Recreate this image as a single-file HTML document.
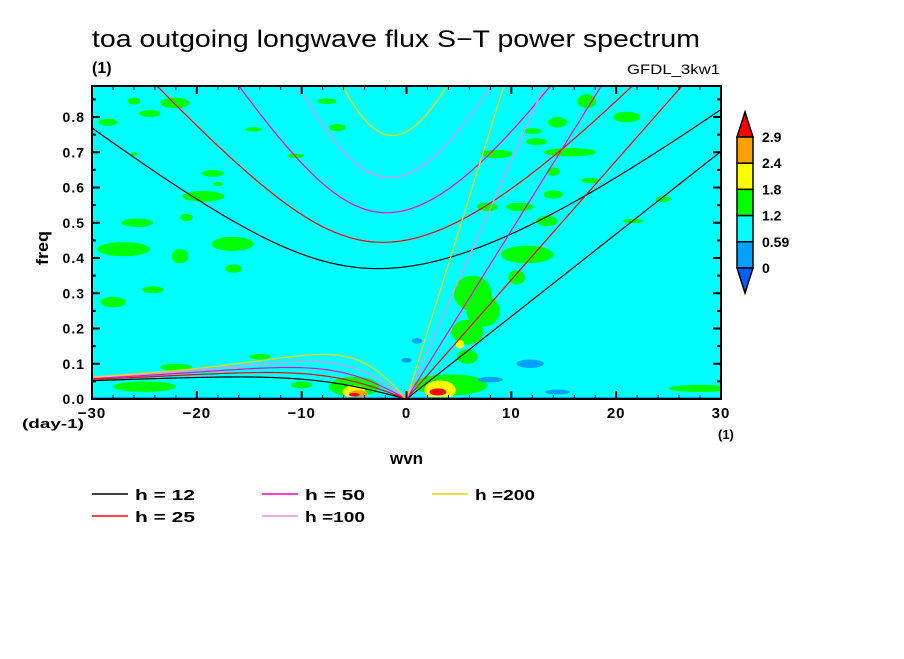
<!DOCTYPE html>
<html><head><meta charset="utf-8"><style>
body{margin:0;background:#fff;width:904px;height:654px;overflow:hidden;font-family:"Liberation Sans",sans-serif}
svg text{font-family:"Liberation Sans",sans-serif;fill:#000}
</style></head><body>
<svg id="c" width="904" height="654">
<text x="92" y="47" font-size="24" textLength="608" lengthAdjust="spacingAndGlyphs">toa outgoing longwave flux S−T power spectrum</text>
<text x="92" y="73" font-size="16" font-weight="bold">(1)</text>
<text x="627" y="74" font-size="14" textLength="93" lengthAdjust="spacingAndGlyphs">GFDL_3kw1</text>
<defs><clipPath id="clip"><rect x="92" y="86" width="629" height="313"/></clipPath></defs>
<rect x="92" y="86" width="629" height="313" fill="#00ffff"/>
<g id="blobs" clip-path="url(#clip)"></g>
<g id="curves" clip-path="url(#clip)"></g>
<rect x="92" y="86" width="629" height="313" fill="none" stroke="#000" stroke-width="2"/>
<g id="axes"></g>
<text x="22" y="428" font-size="13" font-weight="bold" textLength="62" lengthAdjust="spacingAndGlyphs">(day-1)</text>
<text x="718" y="439" font-size="13" font-weight="bold">(1)</text>
<text x="390" y="464" font-size="17" font-weight="bold" textLength="33" lengthAdjust="spacingAndGlyphs">wvn</text>
<text x="0" y="0" font-size="17" font-weight="bold" textLength="34" lengthAdjust="spacingAndGlyphs" transform="translate(48,265) rotate(-90)">freq</text>
<g id="legend"></g>
<g id="colorbar"></g>
</svg>
<script>
const hValues=[12,25,50,100,200];
const hColors=['#000000','#ff0000','#ff00c0','#e890e8','#ffd000'];
const xTicks=[-30,-20,-10,0,10,20,30];
const yTicks=[0,0.1,0.2,0.3,0.4,0.5,0.6,0.7,0.8];
const cbLabels=['2.9','2.4','1.8','1.2','0.59','0'];
const levelColors=['#00a0ff','#00ffff','#00ff00','#ffff00','#ffa000','#ff0000'];
// blobs: wvn, freq, rx (wvn), ry (freq), level
const blobW=[-26,-22.1,-24.5,-28.5,-18.5,-19.4,-25.7,-27,-16.6,-21.6,-16.5,-28,-24.2,-21,-7.6,-6.6,-14.6,-10.6,-18,-26,17.2,21,14.4,12,12.4,15.6,8.6,14,17.5,14,7.7,10.8,13.4,11.5,10.5,6.3,7.3,5.8,5.8,4.2,28,21.6,24.5,-25,-22,-10,-14,-5,-5,3.2,5.1,3,11.8,14.4,1,0,8,-4.6,-5];
const blobF=[0.845,0.84,0.81,0.785,0.64,0.575,0.5,0.425,0.44,0.405,0.37,0.275,0.31,0.515,0.845,0.77,0.765,0.69,0.61,0.695,0.845,0.8,0.785,0.76,0.73,0.7,0.695,0.645,0.62,0.58,0.545,0.545,0.505,0.41,0.345,0.3,0.25,0.19,0.12,0.04,0.03,0.505,0.567,0.035,0.09,0.04,0.12,0.035,0.02,0.025,0.155,0.02,0.1,0.02,0.165,0.11,0.055,0.015,0.012];
const blobRx=[0.6,1.4,1,0.9,1,2,1.5,2.5,2,0.8,0.8,1.2,1,0.6,0.9,0.8,0.8,0.8,0.5,0.3,0.9,1.3,0.9,0.9,1,2.5,1.5,0.6,0.8,0.9,1,1.3,1,2.5,0.8,1.8,1.6,1.5,1,3.5,3,1,0.7,3,1.5,1,1,2.4,1.1,1.5,0.4,0.8,1.3,1.2,0.5,0.5,1.2,0.9,0.5];
const blobRy=[0.01,0.015,0.01,0.01,0.01,0.015,0.012,0.02,0.02,0.02,0.012,0.015,0.01,0.01,0.008,0.01,0.006,0.006,0.006,0.005,0.02,0.015,0.015,0.008,0.01,0.012,0.012,0.012,0.008,0.012,0.012,0.012,0.015,0.025,0.02,0.05,0.045,0.035,0.02,0.03,0.01,0.006,0.008,0.015,0.01,0.01,0.008,0.028,0.018,0.028,0.012,0.01,0.012,0.007,0.008,0.007,0.008,0.01,0.005];
const blobL=[2,2,2,2,2,2,2,2,2,2,2,2,2,2,2,2,2,2,2,2,2,2,2,2,2,2,2,2,2,2,2,2,2,2,2,2,2,2,2,2,2,2,2,2,2,2,2,2,3,3,3,5,0,0,0,0,0,4,5];

const NS='http://www.w3.org/2000/svg';
const X0=92,X1=721,Y0=399,Y1=86,FMAX=(399-86)/352.5;
const X=s=>X0+(s+30)/60*(X1-X0);
const Y=f=>Y0-f/FMAX*(Y0-Y1);
function mk(tag,attrs,parent){const e=document.createElementNS(NS,tag);for(const k in attrs)e.setAttribute(k,attrs[k]);parent.appendChild(e);return e;}
const blobs=document.getElementById('blobs');
blobW.forEach((w,i)=>{
  const e=mk('ellipse',{cx:X(w),cy:Y(blobF[i]),rx:blobRx[i]/60*629,ry:blobRy[i]/FMAX*313,fill:levelColors[blobL[i]]},blobs);
  
  
});
mk('line',{x1:X0,y1:Y0-1,x2:X1,y2:Y0-1,stroke:'#00a0ff','stroke-width':2},blobs);
const a=6.371e6,beta=2*7.292e-5/a,toCpd=86400/(2*Math.PI);
const curves=document.getElementById('curves');
function path(pts,color,name){
  const d=pts.map((p,i)=>(i?'L':'M')+X(p[0]).toFixed(1)+' '+Y(p[1]).toFixed(2)).join(' ');
  const e=mk('path',{d:d,fill:'none',stroke:color,'stroke-width':1.2},curves);
  
  
}
hValues.forEach((h,i)=>{
  const c=Math.sqrt(9.81*h),col=hColors[i];
  const kel=[],ig=[],er=[];
  for(let s=-30;s<=30.001;s+=0.25){
    const k=s/a;
    if(s>=0)kel.push([s,c*k*toCpd]);
    if(s<=0){er.push([s,(-beta*k/(k*k+3*beta/c))*toCpd]);}
    let w=Math.sqrt(c*c*k*k+3*beta*c)*1.2;
    for(let it=0;it<50;it++){const f=w*w*w-(c*c*k*k+3*beta*c)*w-beta*c*c*k;const df=3*w*w-(c*c*k*k+3*beta*c);w-=f/df;}
    ig.push([s,w*toCpd]);
  }
  path(kel,col,'kelvin-h'+h);
  path(ig,col,'ig1-h'+h);
  path(er,col,'er1-h'+h);
});
const ax=document.getElementById('axes');
for(let s=-30;s<=30;s+=2){const maj=s%10===0;
  mk('line',{x1:X(s),y1:Y0,x2:X(s),y2:Y0-(maj?8:4),stroke:'#000','stroke-width':maj?2:1},ax);
  mk('line',{x1:X(s),y1:Y1,x2:X(s),y2:Y1+(maj?8:4),stroke:'#000','stroke-width':maj?2:1},ax);}
for(let f=0;f<=0.88;f+=0.05){const maj=Math.round(f*100)%10===0;
  mk('line',{x1:X0,y1:Y(f),x2:X0+(maj?8:4),y2:Y(f),stroke:'#000','stroke-width':2},ax);
  mk('line',{x1:X1,y1:Y(f),x2:X1-(maj?8:4),y2:Y(f),stroke:'#000','stroke-width':2},ax);}
xTicks.forEach(t=>{const e=mk('text',{x:X(t),y:Y0+19,'font-size':15,'font-weight':'bold','text-anchor':'middle','letter-spacing':1},ax);e.textContent=t<0?'−'+(-t):String(t);
  });
yTicks.forEach(t=>{const e=mk('text',{x:X0-7,y:Y(t)+5,'font-size':14,'font-weight':'bold','text-anchor':'end','letter-spacing':1},ax);e.textContent=t.toFixed(1);
  });
const lg=document.getElementById('legend');
hValues.forEach((h,i)=>{const col=Math.floor(i/2),row=i%2;const x=92+col*170,y=494+row*22;
  const g=mk('g',{},lg);
  mk('line',{x1:x,y1:y,x2:x+36,y2:y,stroke:hColors[i],'stroke-width':1.5},g);
  const t=mk('text',{x:x+43,y:y+6,'font-size':15,'font-weight':'bold',textLength:60,lengthAdjust:'spacingAndGlyphs'},g);t.textContent=h>=100?'h ='+h:'h = '+h;});
const cb=document.getElementById('colorbar');const cx=737,cw=16,segTop=137,segH=26.2;
mk('polygon',{points:`${cx},${segTop} ${cx+cw},${segTop} ${cx+cw/2},${112}`,fill:'#ff0000',stroke:'#000','stroke-width':1.5},cb);
const segCols=['#ffa000','#ffff00','#00ff00','#00ffff','#00a0ff'];
segCols.forEach((c,i)=>{const r=mk('rect',{x:cx,y:segTop+i*segH,width:cw,height:segH,fill:c,stroke:'#000','stroke-width':1.5},cb);
  });
const bot=segTop+5*segH;
mk('polygon',{points:`${cx},${bot} ${cx+cw},${bot} ${cx+cw/2},${bot+25}`,fill:'#0060ff',stroke:'#000','stroke-width':1.5},cb);
cbLabels.forEach((l,i)=>{const t=mk('text',{x:762,y:segTop+i*segH+5,'font-size':14,'font-weight':'bold'},cb);t.textContent=l;
  });
</script>
</body></html>
